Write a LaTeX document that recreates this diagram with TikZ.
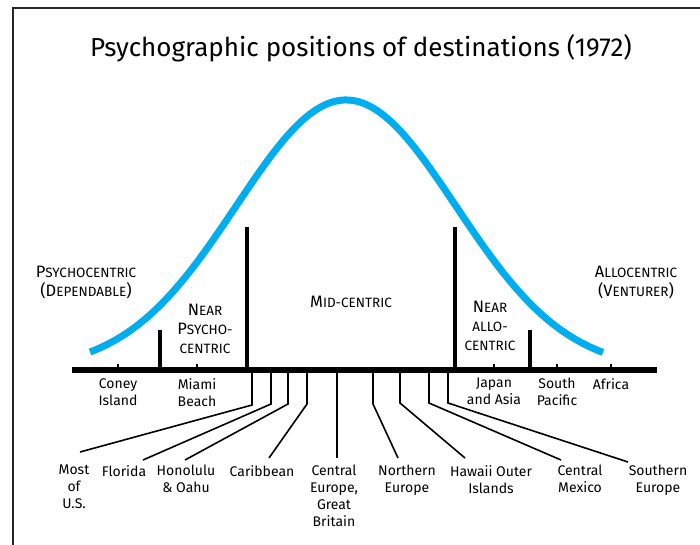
\documentclass[tikz,border=0pt]{standalone}
\usepackage{fontspec}
\setmainfont{Fira Sans}
\definecolor{curveblue}{RGB}{0,174,239}
% fake small caps: large initial letters and smaller capitals
\newcommand\capA[1]{{\fontsize{16.5}{19}\selectfont #1}}
\newcommand\capB[1]{{\fontsize{13.5}{19}\selectfont #1}}
\begin{document}
\begin{tikzpicture}[x=1pt,y=-1pt,
  frame/.style={line width=2pt,draw=black!85},
  axisline/.style={line width=6pt},
  bar/.style={line width=3.5pt},
  tick/.style={line width=1.5pt},
  leader/.style={line width=1.6pt,line join=miter},
  bell/.style={line width=7pt,draw=curveblue},
  zone/.style={align=center,inner sep=0pt,font=\fontsize{13.5}{19}\selectfont},
  place/.style={align=center,inner sep=0pt,anchor=north,font=\fontsize{14}{17}\selectfont},
]
\useasboundingbox (0,0) rectangle (700,544);
\draw[frame] (13,545) -- (13,8) -- (701,8);

\node[font=\fontsize{26}{30}\selectfont] (title) at (361,48) {Psychographic positions of destinations (1972)};

% normal distribution of travellers
\draw[bell] plot[domain=90:603,samples=120,smooth] (\x,{370-270*exp(-0.5*((\x-346)/110)^2)});

% scale and dividing bars
\coordinate (axL) at (72,370);
\coordinate (axR) at (657,370);
\draw[axisline] (axL) -- (axR);
\foreach \n/\x/\t in {b1/160/330,b2/247/227,b3/455/227,b4/530/330}{
  \coordinate (\n top) at (\x,\t);
  \coordinate (\n bot) at (\x,370);
  \draw[bar] (\n top) -- (\n bot);
}
\foreach \n/\x in {coney/118,miami/197,japan/494,south/557,africa/611}{
  \coordinate (t\n) at (\x,364);
  \coordinate (b\n) at (\x,370);
  \draw[tick] (t\n) -- (b\n);
}

% zone names
\node[zone] (psycho) at (86,283) {\capA{P}\capB{SYCHOCENTRIC}\\\capA{(D}\capB{EPENDABLE}\capA{)}};
\node[zone] (nearpsycho) at (205,329) {\capA{N}\capB{EAR}\\\capA{P}\capB{SYCHO-}\\\capB{CENTRIC}};
\node[zone] (mid) at (351,302) {\capA{M}\capB{ID-CENTRIC}};
\node[zone] (nearallo) at (490,326) {\capA{N}\capB{EAR}\\\capB{ALLO-}\\\capB{CENTRIC}};
\node[zone] (allo) at (636,283) {\capA{A}\capB{LLOCENTRIC}\\\capA{(V}\capB{ENTURER}\capA{)}};

% destinations just under the scale
\node[place] (coney) at (118,378) {Coney\\Island};
\node[place] (miami) at (197,378) {Miami\\Beach};
\node[place] (japan) at (494,378) {Japan\\and Asia};
\node[place] (south) at (557,378) {South\\Pacific};
\node[place] (africa) at (611,378) {Africa};

% destinations in the lower row
\node[place] (most) at (74,465) {Most\\of\\U.S.};
\node[place] (florida) at (124,465) {Florida};
\node[place] (honolulu) at (186,465) {Honolulu\\\& Oahu};
\node[place] (carib) at (262,465) {Caribbean};
\node[place] (central) at (334,465) {Central\\Europe,\\Great\\Britain};
\node[place] (northern) at (407,465) {Northern\\Europe};
\node[place] (hawaii) at (491,465) {Hawaii Outer\\Islands};
\node[place] (mexico) at (580,465) {Central\\Mexico};
\node[place] (southern) at (658,465) {Southern\\Europe};

% leaders from the scale to the lower row
\foreach \n/\x/\by/\ex/\ey in {most/252/405/80/452,florida/271/404/143/460,honolulu/288/404/185/460,
    carib/307/404/269/458,northern/373/404/398/458,hawaii/400/403/465/458,mexico/429/403/561/460,southern/448/403/628/462}{
  \coordinate (s\n) at (\x,373);
  \coordinate (k\n) at (\x,\by);
  \coordinate (e\n) at (\ex,\ey);
  \draw[leader] (s\n) -- (k\n) -- (e\n);
}
\coordinate (scentral) at (337,373);
\coordinate (ecentral) at (337,458);
\draw[leader] (scentral) -- (ecentral);
\end{tikzpicture}
\end{document}
